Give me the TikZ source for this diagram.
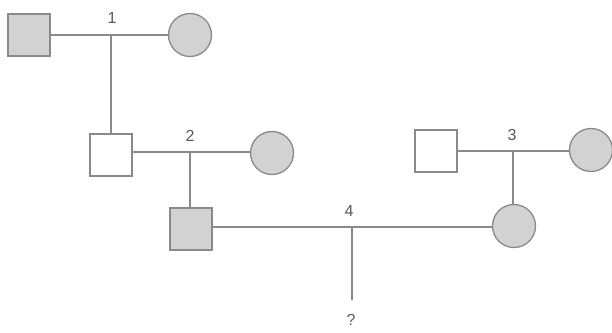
\documentclass[tikz,border=0pt]{standalone}
\usepackage{fontspec}
\setmainfont{Liberation Sans}
\begin{document}
\begin{tikzpicture}[x=1pt,y=-1pt,
  line width=1.3pt,
  affected/.style={fill=shade},
  male/.style={draw=edge, rectangle, minimum size=42pt, inner sep=0pt},
  female/.style={draw=edge, circle, minimum size=43pt, inner sep=0pt},
  link/.style={draw=edge, line width=1.2pt},
  gen/.style={text=labelc, font=\fontsize{16}{16}\selectfont, inner sep=0pt}
]
\definecolor{shade}{HTML}{D2D2D2}
\definecolor{edge}{HTML}{8A8A8A}
\definecolor{labelc}{HTML}{5A5A5A}
\useasboundingbox (0,0) rectangle (612,332);

% first generation
\node[male, affected] (m1) at (29,35) {};
\node[female, affected] (f1) at (190,35) {};
% second generation
\node[male] (m2) at (111,155) {};
\node[female, affected] (f2) at (272,153) {};
% third generation
\node[male, affected] (m3) at (191,229) {};
\node[male] (m4) at (436,151) {};
\node[female, affected] (f4) at (591,150) {};
\node[female, affected] (f3) at (514,226) {};

% couple lines and their junctions
\coordinate (j1) at (111,35);
\coordinate (j2) at (190,152);
\coordinate (j3) at (513,151);
\coordinate (j4) at (352,227);
\coordinate (q) at (352,300);

\draw[link] (m1.east) -- (f1.west);
\draw[link] (j1) -- (m2.north);
\draw[link] (m2.east |- j2) -- (f2.west |- j2);
\draw[link] (j2) -- (m3.north -| j2);
\draw[link] (m4.east |- j3) -- (f4.west |- j3);
\draw[link] (j3) -- (f3.north -| j3);
\draw[link] (m3.east |- j4) -- (f3.west |- j4);
\draw[link] (j4) -- (q);

% generation labels
\node[gen] (l1) at (112,18) {1};
\node[gen] (l2) at (190,136) {2};
\node[gen] (l3) at (512,135) {3};
\node[gen] (l4) at (349,211) {4};
\node[gen] (lq) at (351,320) {?};
\end{tikzpicture}
\end{document}
